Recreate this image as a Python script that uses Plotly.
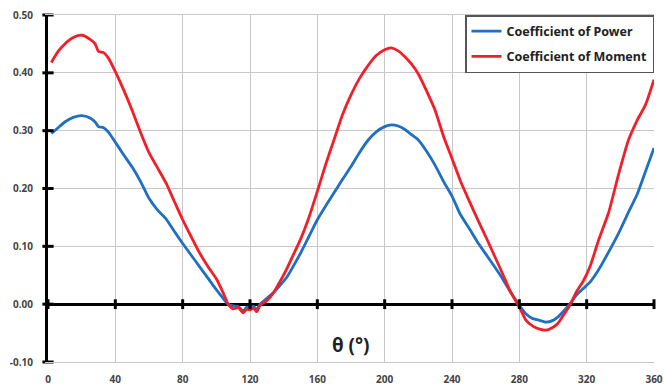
import plotly.graph_objects as go

theta = [2, 6, 10, 15, 20, 25, 28, 30, 33, 36, 40, 45, 50, 55, 60, 65, 70, 75, 80, 85,
         90, 95, 100, 104, 107, 110, 113, 116, 118, 120, 122, 124, 126, 130, 134, 138,
         142, 146, 150, 155, 160, 165, 170, 175, 180, 185, 190, 195, 200, 204, 208, 212,
         216, 220, 225, 230, 235, 240, 245, 250, 255, 260, 265, 270, 275, 280, 284, 288,
         292, 296, 300, 303, 306, 310, 314, 318, 322, 327, 333, 339, 345, 350, 355, 360]

cp = [0.295, 0.305, 0.315, 0.323, 0.326, 0.322, 0.315, 0.307, 0.305, 0.297, 0.280, 0.258,
      0.237, 0.212, 0.183, 0.163, 0.148, 0.126, 0.105, 0.085, 0.065, 0.045, 0.025, 0.010,
      0.000, -0.003, -0.004, -0.012, -0.005, -0.006, -0.004, -0.009, 0.000, 0.010, 0.020,
      0.033, 0.047, 0.067, 0.088, 0.117, 0.146, 0.170, 0.193, 0.216, 0.238, 0.262, 0.283,
      0.298, 0.307, 0.310, 0.308, 0.302, 0.293, 0.284, 0.264, 0.240, 0.212, 0.187, 0.155,
      0.132, 0.108, 0.087, 0.066, 0.044, 0.020, -0.002, -0.017, -0.025, -0.028, -0.031,
      -0.028, -0.022, -0.013, 0.000, 0.016, 0.027, 0.038, 0.059, 0.090, 0.123, 0.160,
      0.190, 0.230, 0.270]

cm = [0.418, 0.437, 0.450, 0.461, 0.465, 0.458, 0.450, 0.437, 0.435, 0.425, 0.402, 0.370,
      0.335, 0.297, 0.262, 0.236, 0.210, 0.178, 0.146, 0.117, 0.089, 0.065, 0.044, 0.020,
      0.000, -0.008, -0.006, -0.015, -0.009, -0.010, -0.007, -0.013, -0.002, 0.006, 0.020,
      0.040, 0.062, 0.087, 0.112, 0.150, 0.195, 0.242, 0.285, 0.328, 0.362, 0.390, 0.412,
      0.430, 0.440, 0.443, 0.438, 0.428, 0.415, 0.398, 0.368, 0.335, 0.290, 0.252, 0.213,
      0.180, 0.148, 0.117, 0.085, 0.053, 0.020, -0.005, -0.028, -0.038, -0.043, -0.045,
      -0.040, -0.033, -0.020, -0.002, 0.022, 0.040, 0.065, 0.110, 0.158, 0.225, 0.285,
      0.318, 0.345, 0.388]

x_ticks = [0, 40, 80, 120, 160, 200, 240, 280, 320, 360]
y_ticks = [-0.10, 0.00, 0.10, 0.20, 0.30, 0.40, 0.50]
y_labels = ["-0.10", "0.00", "0.10", "0.20", "0.30", "0.40", "0.50"]

tick_font = dict(family="Noto Sans", size=10, color="#444444", weight="bold")

fig = go.Figure()
fig.add_trace(go.Scatter(x=theta, y=cp, mode="lines", name="Coefficient of Power",
                         legendgroup="p",
                         line=dict(color="#1f6fc2", width=2.8, shape="spline", smoothing=0.6)))
fig.add_trace(go.Scatter(x=theta, y=cm, mode="lines", name="Coefficient of Moment",
                         legendgroup="m",
                         line=dict(color="#f0202a", width=2.8, shape="spline", smoothing=0.6)))
# tick marks crossing the axes
fig.add_trace(go.Scatter(x=[0] * len(y_ticks), y=y_ticks, mode="markers", showlegend=False,
                         hoverinfo="skip", cliponaxis=False,
                         marker=dict(symbol="line-ew-open", size=8, color="black",
                                     line=dict(width=3, color="black"))))
fig.add_trace(go.Scatter(x=x_ticks, y=[0] * len(x_ticks), mode="markers", showlegend=False,
                         hoverinfo="skip", cliponaxis=False,
                         marker=dict(symbol="line-ns-open", size=7, color="black",
                                     line=dict(width=3, color="black"))))

fig.update_layout(
    width=664, height=389,
    margin=dict(l=48, r=10, t=15, b=27, autoexpand=False),
    paper_bgcolor="white", plot_bgcolor="white",
    showlegend=True,
    legend=dict(x=1.0, xanchor="right", y=1, yanchor="top",
                bgcolor="white", bordercolor="#555555", borderwidth=1.5,
                font=dict(family="Noto Sans", size=12.5, color="#222222", weight="bold"),
                itemwidth=30, traceorder="grouped", tracegroupgap=6),
    xaxis=dict(range=[0, 360], tickvals=x_ticks, ticktext=[str(v) for v in x_ticks],
               showgrid=True, gridcolor="#c8c8c8", gridwidth=1, automargin=False,
               zeroline=False, showline=True, linecolor="#c8c8c8", linewidth=1, mirror=True,
               tickfont=tick_font, ticks="", ticklabelstandoff=8),
    yaxis=dict(range=[-0.10, 0.50], tickvals=y_ticks, ticktext=y_labels,
               showgrid=True, gridcolor="#c8c8c8", gridwidth=1, automargin=False,
               zeroline=True, zerolinecolor="black", zerolinewidth=3,
               showline=True, linecolor="black", linewidth=3,
               tickfont=tick_font, ticks="", ticklabelstandoff=10),
    annotations=[dict(x=180, y=-0.071, xref="x", yref="y", text="θ (°)", showarrow=False,
                      font=dict(family="Noto Sans", size=19, color="#222222", weight="bold"))],
)

fig.write_html("out.html")
